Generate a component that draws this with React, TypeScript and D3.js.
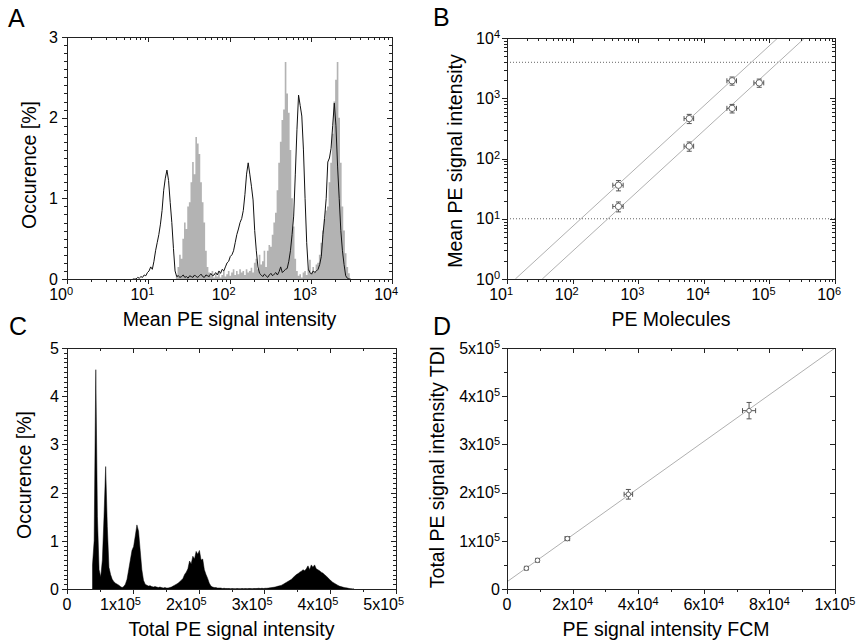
import React from "react";
import * as d3 from "d3";

const FONT = "'Liberation Sans', Arial, Helvetica, sans-serif";

// ---------------- Panel A: flow cytometry histograms (log10 bins) ----------------
const aBinStartLog = 0.8;
const aBinWidthLog = 0.02;
const aBlackCounts = [
  0, 0, 0, 0.02, 0.01, 0.03, 0.02, 0.05, 0.04, 0.08,
  0.1, 0.15, 0.12, 0.22, 0.35, 0.45, 0.55, 0.68, 0.85, 1.1,
  1.25, 1.35, 1.22, 0.95, 0.7, 0.38, 0.1, 0.03, 0.04, 0.02,
  0.03, 0.05, 0.02, 0.03, 0.01, 0.04, 0.03, 0.02, 0.05, 0.03,
  0.02, 0.04, 0.06, 0.03, 0.02, 0.05, 0.04, 0.03, 0.07, 0.04,
  0.05, 0.08, 0.05, 0.1, 0.07, 0.12, 0.1, 0.15, 0.2, 0.22,
  0.28, 0.3, 0.35, 0.45, 0.55, 0.62, 0.7, 0.75, 0.85, 1.05,
  1.3, 1.44, 1.3, 1.15, 0.98, 0.6, 0.35, 0.15, 0.07, 0.05,
  0.03, 0.06, 0.04, 0.02, 0.05, 0.07, 0.04, 0.06, 0.08, 0.05,
  0.09, 0.15, 0.08, 0.1, 0.12, 0.13, 0.22, 0.35, 0.55, 0.78,
  1.3, 1.85, 2.28, 2.15, 2.02, 1.6, 1.0, 0.45, 0.12, 0.08,
  0.06, 0.1, 0.08, 0.1, 0.12, 0.18, 0.28, 0.55, 0.75, 1.0,
  1.45, 1.5, 1.62, 1.9, 2.18, 1.9, 1.4, 1.0, 0.6, 0.35,
  0.18, 0.04, 0.01, 0, 0,
];
const aGrayCounts = [
  0, 0, 0, 0, 0, 0, 0, 0, 0, 0,
  0, 0, 0, 0, 0, 0, 0, 0, 0, 0,
  0, 0, 0, 0, 0, 0, 0, 0.05, 0.15, 0.3,
  0.25, 0.5, 0.7, 0.62, 0.9, 0.95, 1.2, 1.45, 1.3, 1.76,
  1.68, 1.55, 1.2, 0.95, 0.7, 0.35, 0.15, 0.08, 0.04, 0.1,
  0.02, 0.06, 0.03, 0.08, 0.02, 0.05, 0.1, 0.03, 0.06, 0.1,
  0.04, 0.08, 0.12, 0.05, 0.1, 0.06, 0.12, 0.08, 0.1, 0.05,
  0.12, 0.08, 0.1, 0.14, 0.08, 0.2, 0.25, 0.12, 0.3, 0.18,
  0.22, 0.35, 0.15, 0.35, 0.42, 0.4, 0.55, 0.7, 0.82, 1.1,
  1.44, 1.7, 1.97, 2.1, 2.69, 2.3, 2.06, 1.6, 1.0, 0.65,
  0.25, 0.1, 0.04, 0.06, 0.02, 0.08, 0.1, 0.05, 0.12, 0.24,
  0.08, 0.15, 0.1, 0.18, 0.2, 0.3, 0.45, 0.6, 0.75, 0.85,
  0.9, 1.2, 1.44, 1.8, 2.2, 2.47, 2.69, 2.0, 1.44, 0.9,
  0.6, 0.32, 0.15, 0.07, 0,
];
const aXExponents = [0, 1, 2, 3, 4];
const aYTicks = [0, 1, 2, 3];

// ---------------- Panel B: calibration (log-log) ----------------
const bXExponents = [1, 2, 3, 4, 5, 6];
const bYExponents = [0, 1, 2, 3, 4];
const bUpperMolecules = [500, 6000, 27000];
const bUpperIntensity = [36, 460, 1950];
const bUpperMolErr = [90, 1000, 4500];
const bUpperIntErr = [7, 80, 300];
const bLowerMolecules = [500, 6000, 27000, 70000];
const bLowerIntensity = [16, 160, 680, 1800];
const bLowerMolErr = [90, 1000, 4500, 12000];
const bLowerIntErr = [3, 28, 110, 280];
const bFitDivisors = [13.4, 34.5];
const bDottedLevels = [10, 3950];

// ---------------- Panel C: total PE histogram ----------------
const cBinStart = 37500;
const cBinWidth = 2500;
const cCounts = [
  0.5, 1.0, 4.55, 1.5, 0.4, 0.25, 0.6, 1.5, 2.54, 1.3,
  0.45, 0.3, 0.2, 0.15, 0.12, 0.1, 0.08, 0.05, 0.03, 0.05,
  0.1, 0.2, 0.4, 0.6, 0.8, 0.88, 1.1, 1.33, 1.2, 0.8,
  0.4, 0.18, 0.1, 0.08, 0.06, 0.07, 0.05, 0.04, 0.05, 0.04,
  0.03, 0.04, 0.03, 0.02, 0.03, 0.02, 0.02, 0.03, 0.04, 0.06,
  0.08, 0.1, 0.12, 0.15, 0.18, 0.22, 0.3, 0.35, 0.42, 0.58,
  0.52, 0.68, 0.62, 0.78, 0.72, 0.8, 0.6, 0.62, 0.4, 0.3,
  0.22, 0.12, 0.06, 0.04, 0.03, 0.03, 0.02, 0.02, 0.02, 0.01,
  0.015, 0.01, 0.01, 0.01, 0.005, 0.01, 0.005, 0.005, 0.01, 0.005,
  0.005, 0.01, 0.005, 0.01, 0.005, 0.01, 0.01, 0.005, 0.01, 0.01,
  0.01, 0.015, 0.01, 0.015, 0.01, 0.015, 0.015, 0.02, 0.025, 0.03,
  0.035, 0.04, 0.05, 0.06, 0.07, 0.08, 0.1, 0.12, 0.14, 0.16,
  0.18, 0.2, 0.24, 0.27, 0.3, 0.32, 0.35, 0.37, 0.4, 0.38,
  0.42, 0.48, 0.4, 0.5, 0.45, 0.5, 0.42, 0.4, 0.38, 0.35,
  0.33, 0.3, 0.27, 0.24, 0.2, 0.17, 0.14, 0.12, 0.1, 0.08,
  0.06, 0.05, 0.04, 0.03, 0.025, 0.02, 0.01, 0.005, 0, 0,
];
const cXTicks = [0, 100000, 200000, 300000, 400000, 500000];
const cYTicks = [0, 1, 2, 3, 4, 5];

// ---------------- Panel D: TDI vs FCM ----------------
const dFcm = [5900, 9300, 18400, 37000, 73800];
const dTdi = [43000, 59500, 104500, 196500, 370000];
const dFcmErr = [500, 500, 700, 1300, 2000];
const dTdiErr = [2500, 3000, 4000, 10000, 17000];
const dFitIntercept = 15000;
const dFitSlope = 4.85;
const dXTicks = [0, 20000, 40000, 60000, 80000, 100000];
const dYTicks = [0, 100000, 200000, 300000, 400000, 500000];

// ---------------- layout ----------------
type Box = { l: number; r: number; t: number; b: number };
const boxA: Box = { l: 67, r: 392, t: 37, b: 279 };
const boxB: Box = { l: 507, r: 835, t: 38, b: 279 };
const boxC: Box = { l: 67, r: 396, t: 348, b: 589 };
const boxD: Box = { l: 507, r: 835, t: 348, b: 589 };

const TICK_FS = 16;
const SUP_FS = 11;
const TITLE_FS = 19.5;
const LETTER_FS = 25;
const FRAME = "#222";

function logMinor(e0: number, e1: number): number[] {
  const out: number[] = [];
  for (let e = e0; e < e1; e++) for (let m = 2; m <= 9; m++) out.push(m * Math.pow(10, e));
  return out;
}

function Frame(props: {
  box: Box;
  xs: (v: number) => number;
  ys: (v: number) => number;
  xMajor: number[];
  xMinor: number[];
  yMajor: number[];
  yMinor: number[];
}) {
  const { box, xs, ys, xMajor, xMinor, yMajor, yMinor } = props;
  const M = 5,
    m = 3;
  const lines: JSX.Element[] = [];
  const addX = (vals: number[], len: number, k: string) =>
    vals.forEach((v, i) => {
      const x = Math.round(xs(v)) + 0.5;
      lines.push(<line key={k + "b" + i} x1={x} x2={x} y1={box.b} y2={box.b + len} />);
      lines.push(<line key={k + "t" + i} x1={x} x2={x} y1={box.t} y2={box.t + len} />);
    });
  const addY = (vals: number[], len: number, k: string) =>
    vals.forEach((v, i) => {
      const y = Math.round(ys(v)) + 0.5;
      lines.push(<line key={k + "l" + i} x1={box.l - len} x2={box.l} y1={y} y2={y} />);
      lines.push(<line key={k + "r" + i} x1={box.r - len} x2={box.r} y1={y} y2={y} />);
    });
  addX(xMinor, m, "xm");
  addX(xMajor, M, "xM");
  addY(yMinor, m, "ym");
  addY(yMajor, M, "yM");
  return (
    <g stroke={FRAME} strokeWidth={1} fill="none" shapeRendering="crispEdges">
      {lines}
      <rect x={box.l + 0.5} y={box.t + 0.5} width={box.r - box.l} height={box.b - box.t} />
    </g>
  );
}

function sciParts(v: number): [string, string] {
  if (v === 0) return ["0", ""];
  const e = Math.floor(Math.log10(v) + 1e-9);
  const mant = Math.round(v / Math.pow(10, e));
  return [mant + "x10", String(e)];
}

function ErrPoint(props: {
  cx: number; cy: number; x0: number; x1: number; y0: number; y1: number; r: number; k: string;
}) {
  const { cx, cy, x0, x1, y0, y1, r } = props;
  const cap = 2.5;
  return (
    <g stroke="#555" strokeWidth={1} fill="none">
      <line x1={x0} x2={x1} y1={cy} y2={cy} />
      <line x1={x0} x2={x0} y1={cy - cap} y2={cy + cap} />
      <line x1={x1} x2={x1} y1={cy - cap} y2={cy + cap} />
      <line x1={cx} x2={cx} y1={y0} y2={y1} />
      <line x1={cx - cap} x2={cx + cap} y1={y0} y2={y0} />
      <line x1={cx - cap} x2={cx + cap} y1={y1} y2={y1} />
      <circle cx={cx} cy={cy} r={r} fill="#fff" stroke="#666" />
    </g>
  );
}

export default function App() {
  // ---------- scales ----------
  const axA = d3.scaleLog().domain([1, 1e4]).range([boxA.l, boxA.r]);
  const ayA = d3.scaleLinear().domain([0, 3]).range([boxA.b, boxA.t]);
  const axB = d3.scaleLog().domain([10, 1e6]).range([boxB.l, boxB.r]);
  const ayB = d3.scaleLog().domain([1, 1e4]).range([boxB.b, boxB.t]);
  const axC = d3.scaleLinear().domain([0, 500000]).range([boxC.l, boxC.r]);
  const ayC = d3.scaleLinear().domain([0, 5]).range([boxC.b, boxC.t]);
  const axD = d3.scaleLinear().domain([0, 100000]).range([boxD.l, boxD.r]);
  const ayD = d3.scaleLinear().domain([0, 500000]).range([boxD.b, boxD.t]);

  // ---------- panel A shapes ----------
  const grayPts = aGrayCounts.map((c, i) => ({ lx: aBinStartLog + i * aBinWidthLog, c }));
  grayPts.push({
    lx: aBinStartLog + aGrayCounts.length * aBinWidthLog,
    c: aGrayCounts[aGrayCounts.length - 1],
  });
  const grayArea = d3
    .area<{ lx: number; c: number }>()
    .curve(d3.curveStepAfter)
    .x((d) => axA(Math.pow(10, d.lx)))
    .y0(ayA(0))
    .y1((d) => ayA(d.c))(grayPts) as string;
  const blackLine = d3
    .line<number>()
    .x((_, i) => axA(Math.pow(10, aBinStartLog + (i + 0.5) * aBinWidthLog)))
    .y((c) => ayA(c))(aBlackCounts) as string;

  // ---------- panel C shape ----------
  const cArea = d3
    .area<number>()
    .x((_, i) => axC(cBinStart + (i + 0.5) * cBinWidth))
    .y0(ayC(0))
    .y1((c) => ayC(c))(cCounts) as string;

  // ---------- panel D fit ----------
  const dFitLine = d3
    .line<number>()
    .x((v) => axD(v))
    .y((v) => ayD(dFitIntercept + dFitSlope * v))([0, 100000]) as string;

  const linMinor = (a: number, b: number, s: number) => d3.range(a, b + s / 2, s);

  return (
    <svg
      width={859}
      height={644}
      style={{ position: "absolute", left: 0, top: 0, background: "#fff" }}
      fontFamily={FONT}
    >
      <rect x={0} y={0} width={859} height={644} fill="#fff" />
      <defs>
        {[boxA, boxB, boxC, boxD].map((b, i) => (
          <clipPath id={"clip" + i} key={i}>
            <rect x={b.l} y={b.t} width={b.r - b.l} height={b.b - b.t} />
          </clipPath>
        ))}
      </defs>

      {/* ================= Panel A ================= */}
      <g>
        <g clipPath="url(#clip0)">
          <path d={grayArea} fill="#b3b3b3" stroke="none" />
          <path d={blackLine} fill="none" stroke="#111" strokeWidth={1} />
        </g>
        <Frame
          box={boxA}
          xs={axA}
          ys={ayA}
          xMajor={aXExponents.map((e) => Math.pow(10, e))}
          xMinor={logMinor(0, 4)}
          yMajor={aYTicks}
          yMinor={linMinor(0, 3, 0.1)}
        />
        <g fontSize={TICK_FS} fill="#000">
          {aXExponents.map((e) => (
            <text key={"ax" + e} x={axA(Math.pow(10, e)) - 17.8} y={300}>
              10<tspan dy={-5.5} fontSize={SUP_FS}>{e}</tspan>
            </text>
          ))}
          {aYTicks.map((v) => (
            <text key={"ay" + v} x={58} y={ayA(v) + 5.7} textAnchor="end">
              {v}
            </text>
          ))}
        </g>
        <text x={(boxA.l + boxA.r) / 2} y={326} fontSize={TITLE_FS} textAnchor="middle">
          Mean PE signal intensity
        </text>
        <text transform={`translate(36,165) rotate(-90)`} fontSize={TITLE_FS} textAnchor="middle">
          Occurence [%]
        </text>
        <text x={8} y={27} fontSize={LETTER_FS}>A</text>
      </g>

      {/* ================= Panel B ================= */}
      <g>
        <g clipPath="url(#clip1)">
          {bDottedLevels.map((lv, i) => (
            <line
              key={"dot" + i}
              x1={boxB.l}
              x2={boxB.r}
              y1={ayB(lv)}
              y2={ayB(lv)}
              stroke="#666"
              strokeWidth={1}
              strokeDasharray="1,2"
            />
          ))}
          {bFitDivisors.map((dv, i) => (
            <line
              key={"fit" + i}
              x1={axB(dv)}
              y1={ayB(1)}
              x2={axB(dv * 1e4)}
              y2={ayB(1e4)}
              stroke="#b0b0b0"
              strokeWidth={1}
            />
          ))}
          {bUpperMolecules.map((mx, i) => (
            <ErrPoint
              key={"bu" + i}
              k={"bu" + i}
              cx={axB(mx)}
              cy={ayB(bUpperIntensity[i])}
              x0={axB(mx - bUpperMolErr[i])}
              x1={axB(mx + bUpperMolErr[i])}
              y0={ayB(bUpperIntensity[i] - bUpperIntErr[i])}
              y1={ayB(bUpperIntensity[i] + bUpperIntErr[i])}
              r={3.2}
            />
          ))}
          {bLowerMolecules.map((mx, i) => (
            <ErrPoint
              key={"bl" + i}
              k={"bl" + i}
              cx={axB(mx)}
              cy={ayB(bLowerIntensity[i])}
              x0={axB(mx - bLowerMolErr[i])}
              x1={axB(mx + bLowerMolErr[i])}
              y0={ayB(bLowerIntensity[i] - bLowerIntErr[i])}
              y1={ayB(bLowerIntensity[i] + bLowerIntErr[i])}
              r={3.2}
            />
          ))}
        </g>
        <Frame
          box={boxB}
          xs={axB}
          ys={ayB}
          xMajor={bXExponents.map((e) => Math.pow(10, e))}
          xMinor={logMinor(1, 6)}
          yMajor={bYExponents.map((e) => Math.pow(10, e))}
          yMinor={logMinor(0, 4)}
        />
        <g fontSize={TICK_FS} fill="#000">
          {bXExponents.map((e) => (
            <text key={"bx" + e} x={axB(Math.pow(10, e)) - 17.8} y={300}>
              10<tspan dy={-5.5} fontSize={SUP_FS}>{e}</tspan>
            </text>
          ))}
          {bYExponents.map((e) => (
            <text key={"by" + e} x={500} y={ayB(Math.pow(10, e)) + 5.7} textAnchor="end">
              10<tspan dy={-5.5} fontSize={SUP_FS}>{e}</tspan>
            </text>
          ))}
        </g>
        <text x={(boxB.l + boxB.r) / 2} y={326} fontSize={TITLE_FS} textAnchor="middle">
          PE Molecules
        </text>
        <text transform={`translate(462,161) rotate(-90)`} fontSize={TITLE_FS} textAnchor="middle">
          Mean PE signal intensity
        </text>
        <text x={433} y={26} fontSize={LETTER_FS}>B</text>
      </g>

      {/* ================= Panel C ================= */}
      <g>
        <g clipPath="url(#clip2)">
          <path d={cArea} fill="#000" stroke="#000" strokeWidth={0.5} />
        </g>
        <Frame
          box={boxC}
          xs={axC}
          ys={ayC}
          xMajor={cXTicks}
          xMinor={linMinor(0, 500000, 50000)}
          yMajor={cYTicks}
          yMinor={linMinor(0, 5, 0.1)}
        />
        <g fontSize={TICK_FS} fill="#000">
          {cXTicks.map((v) => {
            const [main, sup] = sciParts(v);
            return v === 0 ? (
              <text key={"cx" + v} x={axC(v)} y={610} textAnchor="middle">
                {main}
              </text>
            ) : (
              <text key={"cx" + v} x={axC(v) + 2 - 34.7} y={610}>
                {main}
                <tspan dy={-5.5} fontSize={SUP_FS}>{sup}</tspan>
              </text>
            );
          })}
          {cYTicks.map((v) => (
            <text key={"cy" + v} x={59} y={ayC(v) + 5.7} textAnchor="end">
              {v}
            </text>
          ))}
        </g>
        <text x={(boxC.l + boxC.r) / 2} y={636} fontSize={TITLE_FS} textAnchor="middle">
          Total PE signal intensity
        </text>
        <text transform={`translate(31,475) rotate(-90)`} fontSize={TITLE_FS} textAnchor="middle">
          Occurence [%]
        </text>
        <text x={9} y={335} fontSize={LETTER_FS}>C</text>
      </g>

      {/* ================= Panel D ================= */}
      <g>
        <g clipPath="url(#clip3)">
          <path d={dFitLine} fill="none" stroke="#b0b0b0" strokeWidth={1} />
          {dFcm.map((fx, i) => (
            <ErrPoint
              key={"d" + i}
              k={"d" + i}
              cx={axD(fx)}
              cy={ayD(dTdi[i])}
              x0={axD(fx - dFcmErr[i])}
              x1={axD(fx + dFcmErr[i])}
              y0={ayD(dTdi[i] - dTdiErr[i])}
              y1={ayD(dTdi[i] + dTdiErr[i])}
              r={2.3}
            />
          ))}
        </g>
        <Frame
          box={boxD}
          xs={axD}
          ys={ayD}
          xMajor={dXTicks}
          xMinor={linMinor(0, 100000, 10000)}
          yMajor={dYTicks}
          yMinor={linMinor(0, 500000, 50000)}
        />
        <g fontSize={TICK_FS} fill="#000">
          {dXTicks.map((v) => {
            const [main, sup] = sciParts(v);
            return (
              <text key={"dx" + v} x={axD(v)} y={610} textAnchor="middle">
                {main}
                {sup && <tspan dy={-5.5} fontSize={SUP_FS}>{sup}</tspan>}
              </text>
            );
          })}
          {dYTicks.map((v) => {
            const [main, sup] = sciParts(v);
            return (
              <text key={"dy" + v} x={500} y={ayD(v) + 5.7} textAnchor="end">
                {main}
                {sup && <tspan dy={-5.5} fontSize={SUP_FS}>{sup}</tspan>}
              </text>
            );
          })}
        </g>
        <text x={666} y={636} fontSize={TITLE_FS} textAnchor="middle">
          PE signal intensity FCM
        </text>
        <text transform={`translate(444,467) rotate(-90)`} fontSize={TITLE_FS} textAnchor="middle">
          Total PE signal intensity TDI
        </text>
        <text x={433} y={335} fontSize={LETTER_FS}>D</text>
      </g>
    </svg>
  );
}
